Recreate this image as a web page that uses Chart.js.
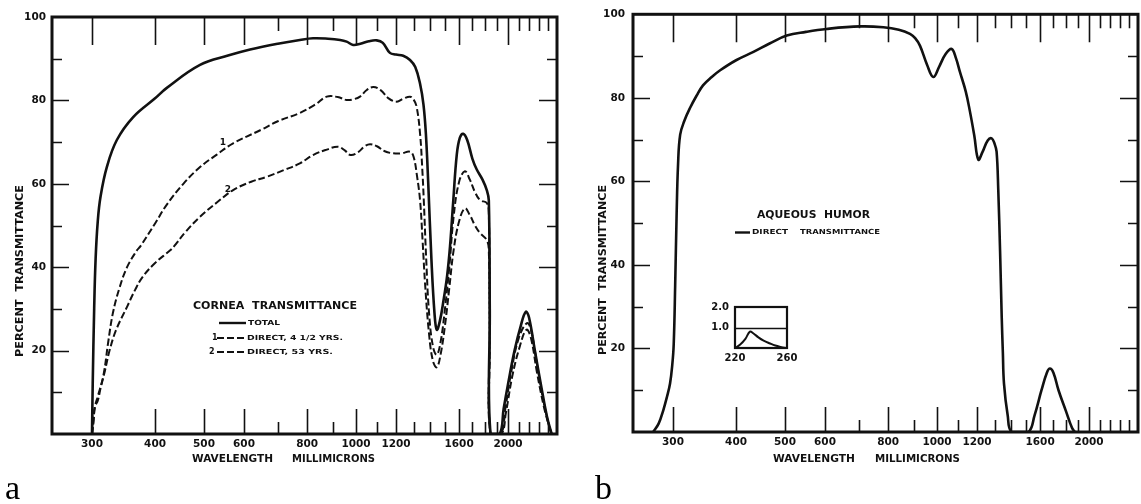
<!DOCTYPE html>
<html>
<head>
<meta charset="utf-8">
<script src="https://cdn.jsdelivr.net/npm/chart.js@4.4.1/dist/chart.umd.min.js"></script>
<style>
    body {
        margin: 0;
        background: #ffffff;
        width: 1141px;
        height: 504px;
        position: relative;
        overflow: hidden;
    }
    .box { position: absolute; }
    #boxA { left: 0; top: 0; width: 570px; height: 480px; }
    #boxB { left: 570px; top: 0; width: 571px; height: 480px; }
    #boxInset { left: 700px; top: 295px; width: 110px; height: 75px; }
    .tag {
        position: absolute;
        font-family: "Liberation Serif", serif;
        font-size: 34px;
        line-height: 34px;
        color: #000;
    }
</style>
</head>
<body>
<div class="box" id="boxA"><canvas id="chartA"></canvas></div>
<div class="box" id="boxB"><canvas id="chartB"></canvas></div>
<div class="box" id="boxInset"><canvas id="chartInset"></canvas></div>
<div class="tag" style="left:5px; top:471px;">a</div>
<div class="tag" style="left:595px; top:471px;">b</div>

<script>
// ---- data (wavelength in millimicrons, percent transmittance) ----
const corneaTotalNm = [300, 301, 303, 305, 308, 312, 321, 336, 362, 400, 422, 491, 560, 617, 700, 774, 822, 880, 930, 958, 987, 1020, 1060, 1099, 1130, 1167, 1200, 1240, 1279, 1310, 1339, 1360, 1375, 1390, 1410, 1430, 1445, 1465, 1490, 1515, 1535, 1558, 1583, 1605, 1630, 1660, 1700, 1733, 1780, 1815, 1832, 1840, 1846, 1925, 1960, 2000, 2060, 2120, 2168, 2200, 2260, 2330, 2390, 2440];
const corneaTotalPct = [0, 12, 30, 42, 51, 57, 64, 70.5, 76, 80.5, 83, 88.5, 90.8, 92.2, 93.6, 94.5, 94.9, 94.8, 94.5, 94.1, 93.3, 93.6, 94.2, 94.4, 93.8, 91.4, 91.0, 90.7, 89.7, 88, 84, 79, 72, 60, 42, 29, 25, 27, 32, 38, 45, 56, 67, 71, 72, 70.5, 66, 63.5, 61, 58.5, 56, 30, 0, 0, 6, 12, 20, 26, 29.3, 28, 20, 11, 4, 0];

const cornea1Nm = [300, 302, 304, 308, 316, 323, 330, 340, 352, 368, 374, 400, 422, 455, 491, 530, 571, 650, 700, 774, 830, 875, 920, 958, 990, 1018, 1050, 1082, 1120, 1160, 1204, 1240, 1279, 1300, 1318, 1339, 1352, 1362, 1377, 1395, 1420, 1445, 1470, 1500, 1530, 1560, 1600, 1643, 1680, 1720, 1760, 1815, 1832, 1840, 1846, 1935, 1975, 2030, 2100, 2180, 2220, 2280, 2350, 2410, 2440];
const cornea1Pct = [0, 3, 6.5, 9, 14, 22, 29, 35, 40, 44, 45, 50.5, 55, 60, 64, 67, 69.7, 73, 75, 77, 79, 80.9, 80.8, 80.1, 80.3, 80.9, 82.5, 83.2, 82.4, 80.5, 79.7, 80.4, 80.9, 80.2, 78.5, 72, 64, 56, 42, 29, 21, 19, 22, 30, 40, 52, 60.5, 63, 61, 58, 56.1, 55.4, 53, 25, 0, 0, 6, 15, 23, 26.6, 25, 17, 8, 2, 0];

const cornea2Nm = [300, 302, 304, 308, 312, 318, 325, 335, 352, 365, 378, 400, 428, 436, 460, 491, 530, 571, 620, 666, 720, 774, 822, 875, 921, 950, 975, 1010, 1040, 1066, 1100, 1140, 1186, 1230, 1279, 1300, 1320, 1339, 1355, 1370, 1395, 1420, 1445, 1470, 1500, 1530, 1560, 1600, 1643, 1680, 1720, 1760, 1815, 1832, 1840, 1846, 1940, 1980, 2040, 2110, 2175, 2220, 2280, 2350, 2410, 2440];
const cornea2Pct = [0, 3, 6.5, 8, 11, 15, 20, 25, 30.5, 34.5, 37.7, 41, 44, 45, 48.5, 52.1, 55.5, 58.5, 60.5, 61.7, 63.3, 64.9, 66.9, 68.2, 68.9, 68, 66.9, 67.6, 69, 69.5, 69, 67.8, 67.3, 67.3, 67.7, 66.5, 62, 56, 46, 36, 24, 17.5, 16, 19, 26, 35, 44, 51, 54.1, 52.5, 50, 48.2, 46.5, 44, 20, 0, 0, 5, 14, 21, 25, 23, 15, 7, 2, 0];

const humorNm = [274, 281, 287, 292, 296, 299, 301, 303, 305, 307, 310, 316, 324, 334, 344, 358, 372, 400, 433, 466, 504, 550, 604, 704, 783, 840, 884, 905, 925, 955, 983, 1010, 1040, 1069, 1090, 1110, 1140, 1162, 1185, 1207, 1230, 1260, 1283, 1300, 1312, 1322, 1333, 1343, 1350, 1357, 1380, 1406, 1516, 1560, 1610, 1650, 1673, 1700, 1740, 1800, 1850, 1875];
const humorPct = [0, 2, 5.2, 8.5, 11.6, 16, 21, 35, 52, 64, 71.2, 74.5, 77.5, 80.5, 83, 85, 86.6, 89, 91, 93, 94.9, 95.8, 96.5, 97.1, 96.9, 96.3, 95.3, 94.3, 92.5, 88, 85, 87.5, 90.5, 91.7, 89.5, 86.2, 81.5, 76.7, 71, 65.2, 67, 69.8, 70.3, 69, 67.1, 58, 43.3, 27.5, 19, 11.6, 4, 0, 0, 4, 10, 14.2, 15.2, 14.2, 10, 5, 1, 0];

// inset: 220-260 millimicrons, scale 0-2.0
const insetNm = [220, 224, 228, 231.5, 234, 238, 242, 247, 251, 255, 258, 260];
const insetVal = [0, 0.17, 0.45, 0.8, 0.72, 0.52, 0.36, 0.22, 0.12, 0.05, 0.01, 0];

// ticks
const xTickLabels = [300, 400, 500, 600, 800, 1000, 1200, 1600, 2000];
const xMinorTicks = [700, 900, 1100, 1300, 1400, 1500, 1700, 1800, 1900, 2100, 2200, 2300, 2400];
const yTickLabels = [20, 40, 60, 80, 100];
const yMinorTicks = [10, 30, 50, 70, 90];
const insetXTicks = [220, 260];
const insetYTicks = [1.0, 2.0];

const INK = '#111111';
const FONT = '"DejaVu Sans", sans-serif';

// inward tick marks + frame box
const framePlugin = {
    id: 'frame',
    afterDatasetsDraw(chart, args, opts) {
        if (!opts.on) return;
        const { ctx, chartArea: a, scales: { x, y } } = chart;
        ctx.save();
        ctx.strokeStyle = INK;
        ctx.lineWidth = 1.6;
        ctx.beginPath();
        const xt = (list, bot, top) => list.forEach(v => {
            const px = Math.round(x.getPixelForValue(v)) + 0.5;
            ctx.moveTo(px, a.bottom); ctx.lineTo(px, a.bottom - bot);
            ctx.moveTo(px, a.top); ctx.lineTo(px, a.top + top);
        });
        xt(xTickLabels, 25, 28);
        xt(xMinorTicks, 12, 14);
        const yt = (list, left, right) => list.forEach(v => {
            const py = Math.round(y.getPixelForValue(v)) + 0.5;
            ctx.moveTo(a.left, py); ctx.lineTo(a.left + left, py);
            ctx.moveTo(a.right, py); ctx.lineTo(a.right - right, py);
        });
        yt(yTickLabels.filter(v => v < 100), 17, 18);
        yt(yMinorTicks, 10, 10);
        ctx.stroke();
        ctx.lineWidth = 3;
        ctx.strokeRect(a.left, a.top, a.width, a.height);
        ctx.restore();
    }
};

// free text and legend samples
const notesPlugin = {
    id: 'notes',
    afterDatasetsDraw(chart, args, opts) {
        const ctx = chart.ctx;
        ctx.save();
        ctx.fillStyle = INK;
        ctx.strokeStyle = INK;
        (opts.lines || []).forEach(l => {
            ctx.lineWidth = l.w || 2.4;
            ctx.setLineDash(l.dash || []);
            ctx.beginPath();
            ctx.moveTo(l.x1, l.y); ctx.lineTo(l.x2, l.y);
            ctx.stroke();
        });
        ctx.setLineDash([]);
        (opts.items || []).forEach(t => {
            ctx.save();
            ctx.font = `bold ${t.size}px ${FONT}`;
            ctx.textBaseline = 'middle';
            ctx.textAlign = t.align || 'left';
            const w = ctx.measureText(t.text).width;
            ctx.translate(t.x, t.y);
            if (t.rot) ctx.rotate(t.rot);
            if (t.w) ctx.scale(t.w / w, 1);
            ctx.fillText(t.text, 0, 0);
            ctx.restore();
        });
        ctx.restore();
    }
};

function pts(xs, ys) {
    return xs.map((v, i) => ({ x: v, y: ys[i] }));
}

function panel(id, series, lay, notes) {
    const ctx = document.getElementById(id);
    return new Chart(ctx, {
        type: 'line',
        data: {
            datasets: series.map(s => ({
                data: pts(s.x, s.y),
                borderColor: INK,
                borderWidth: s.w,
                borderDash: s.dash || [],
                pointRadius: 0,
                tension: 0.4,
                fill: false
            }))
        },
        options: {
            responsive: true,
            maintainAspectRatio: false,
            animation: false,
            devicePixelRatio: 1,
            layout: { padding: { top: lay.top, right: lay.right, left: 0, bottom: 0 } },
            plugins: {
                legend: { display: false },
                tooltip: { enabled: false },
                frame: { on: true },
                notes: notes
            },
            scales: {
                x: {
                    type: 'logarithmic',
                    min: 250,
                    max: 2500,
                    grid: { display: false, drawTicks: false },
                    border: { display: false },
                    afterBuildTicks: s => { s.ticks = xTickLabels.map(v => ({ value: v })); },
                    afterFit: s => { s.height = lay.xh; },
                    ticks: {
                        autoSkip: false, maxRotation: 0, padding: 4, color: INK,
                        font: { family: FONT, size: 10.5, weight: 'bold' },
                        callback: v => String(v)
                    }
                },
                y: {
                    min: 0,
                    max: 100,
                    grid: { display: false, drawTicks: false },
                    border: { display: false },
                    afterBuildTicks: s => { s.ticks = yTickLabels.map(v => ({ value: v })); },
                    afterFit: s => { s.width = lay.yw; },
                    ticks: {
                        padding: lay.ypad, color: INK,
                        font: { family: FONT, size: 10.5, weight: 'bold' },
                        callback: v => String(v)
                    }
                }
            }
        },
        plugins: [framePlugin, notesPlugin]
    });
}

const ROT = -Math.PI / 2;

panel('chartA', [
    { x: corneaTotalNm, y: corneaTotalPct, w: 2.6 },
    { x: cornea1Nm, y: cornea1Pct, w: 2, dash: [7, 3] },
    { x: cornea2Nm, y: cornea2Pct, w: 2, dash: [7, 3] }
], { top: 17, right: 13, xh: 46, yw: 52, ypad: 6 }, {
    lines: [
        { x1: 219, x2: 246, y: 323 },
        { x1: 217, x2: 247, y: 338, dash: [7, 3], w: 2 },
        { x1: 217, x2: 247, y: 352, dash: [7, 3], w: 2 }
    ],
    items: [
        { text: 'CORNEA  TRANSMITTANCE', x: 193, y: 306, w: 164, size: 10.5 },
        { text: 'TOTAL', x: 248, y: 323, w: 32, size: 7 },
        { text: '1', x: 212, y: 338, size: 8 },
        { text: 'DIRECT, 4 1/2 YRS.', x: 247, y: 338, w: 96, size: 7 },
        { text: '2', x: 209, y: 352, size: 8 },
        { text: 'DIRECT, 53 YRS.', x: 247, y: 352, w: 86, size: 7 },
        { text: '1', x: 223, y: 143, size: 9, align: 'center' },
        { text: '2', x: 228, y: 190, size: 9, align: 'center' },
        { text: 'WAVELENGTH', x: 192, y: 459, w: 81, size: 10.5 },
        { text: 'MILLIMICRONS', x: 292, y: 459, w: 83, size: 10.5 },
        { text: 'PERCENT  TRANSMITTANCE', x: 20, y: 357, w: 172, size: 10.5, rot: ROT }
    ]
});

panel('chartB', [
    { x: humorNm, y: humorPct, w: 2.6 }
], { top: 12, right: 3, xh: 48, yw: 63, ypad: 8 }, {
    lines: [
        { x1: 165, x2: 180, y: 232.5 }
    ],
    items: [
        { text: 'AQUEOUS  HUMOR', x: 187, y: 215, w: 113, size: 10 },
        { text: 'DIRECT', x: 182, y: 232, w: 36, size: 7 },
        { text: 'TRANSMITTANCE', x: 230, y: 232, w: 80, size: 7 },
        { text: 'WAVELENGTH', x: 203, y: 459, w: 82, size: 10.5 },
        { text: 'MILLIMICRONS', x: 305, y: 459, w: 85, size: 10.5 },
        { text: 'PERCENT  TRANSMITTANCE', x: 33, y: 355, w: 170, size: 10.5, rot: ROT }
    ]
});

// small inset box (220-260 mu)
const insetBox = {
    id: 'insetBox',
    afterDatasetsDraw(chart) {
        const { ctx, chartArea: a, scales: { y } } = chart;
        ctx.save();
        ctx.strokeStyle = INK;
        ctx.lineWidth = 1.6;
        const py = Math.round(y.getPixelForValue(insetYTicks[0])) + 0.5;
        ctx.beginPath();
        ctx.moveTo(a.left, py); ctx.lineTo(a.right, py);
        ctx.stroke();
        ctx.lineWidth = 2.2;
        ctx.strokeRect(a.left, a.top, a.width, a.height);
        ctx.restore();
    }
};

new Chart(document.getElementById('chartInset'), {
    type: 'line',
    data: {
        datasets: [{
            data: pts(insetNm, insetVal),
            borderColor: INK,
            borderWidth: 2,
            pointRadius: 0,
            tension: 0.4
        }]
    },
    options: {
        responsive: true,
        maintainAspectRatio: false,
        animation: false,
        devicePixelRatio: 1,
        layout: { padding: { top: 9, right: 23, left: 0, bottom: 0 } },
        plugins: { legend: { display: false }, tooltip: { enabled: false } },
        scales: {
            x: {
                type: 'linear', min: 220, max: 260,
                grid: { display: false, drawTicks: false },
                border: { display: false },
                afterBuildTicks: s => { s.ticks = insetXTicks.map(v => ({ value: v })); },
                afterFit: s => { s.height = 22; },
                ticks: { padding: 4, color: INK, maxRotation: 0, font: { family: FONT, size: 10, weight: 'bold' }, callback: v => String(v) }
            },
            y: {
                min: 0, max: 2,
                grid: { display: false, drawTicks: false },
                border: { display: false },
                afterBuildTicks: s => { s.ticks = insetYTicks.map(v => ({ value: v })); },
                afterFit: s => { s.width = 35; },
                ticks: { padding: 6, color: INK, font: { family: FONT, size: 10, weight: 'bold' }, callback: v => v.toFixed(1) }
            }
        }
    },
    plugins: [insetBox]
});
</script>
</body>
</html>
